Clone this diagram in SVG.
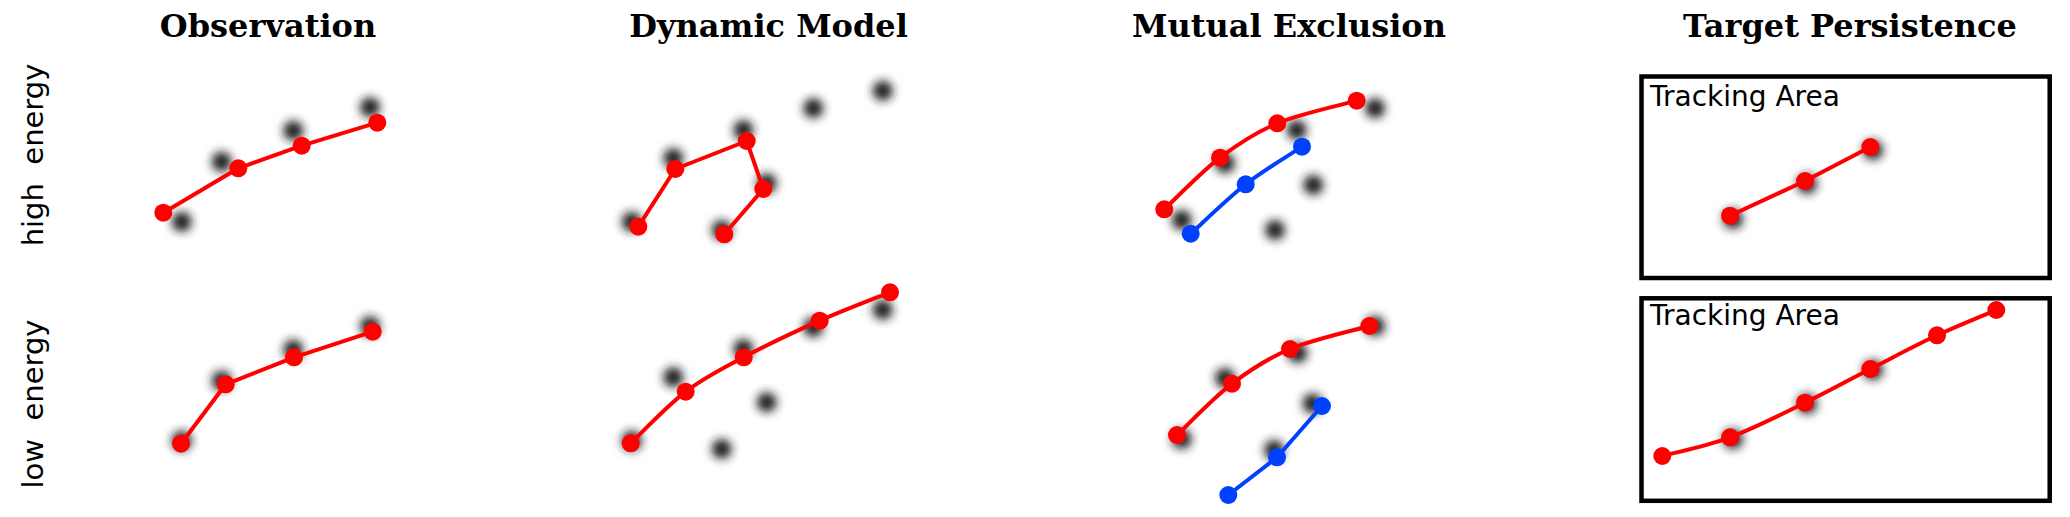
<svg xmlns="http://www.w3.org/2000/svg" width="2070" height="517" viewBox="0 0 2070 517">
<style>
.title{font-family:"DejaVu Serif","Liberation Serif",serif;font-weight:bold;font-size:32px;fill:#000;text-anchor:middle}
.row{font-family:"DejaVu Sans","Liberation Sans",sans-serif;font-size:29px;fill:#000;text-anchor:middle;white-space:pre}
.area{font-family:"DejaVu Sans","Liberation Sans",sans-serif;font-size:28px;fill:#000}
.blob{fill:#1a1a1a;filter:url(#blur)}
.red{fill:none;stroke:#ff0000;stroke-width:4;stroke-linejoin:round}
.blue{fill:none;stroke:#0040ff;stroke-width:4;stroke-linejoin:round}
.rd{fill:#ff0000}
.bd{fill:#0040ff}
.box{fill:none;stroke:#000;stroke-width:4.5}
</style>
<defs>
<filter id="blur" x="-150%" y="-150%" width="400%" height="400%"><feGaussianBlur stdDeviation="5"/></filter>
</defs>
<rect width="2070" height="517" fill="#fff"/>

<g id="titles">
<text class="title" x="268" y="37">Observation</text>
<text class="title" x="768.5" y="37">Dynamic Model</text>
<text class="title" x="1289" y="37">Mutual Exclusion</text>
<text class="title" x="1850" y="37">Target Persistence</text>
</g>
<g id="row-labels">
<text class="row" xml:space="preserve" transform="translate(43,155) rotate(-90)">high  energy</text>
<text class="row" xml:space="preserve" transform="translate(43,404) rotate(-90)">low  energy</text>
</g>

<!-- Observation -->
<g id="obs-high">
<circle class="blob" cx="181.7" cy="221.7" r="10"/>
<circle class="blob" cx="221.7" cy="161.7" r="10"/>
<circle class="blob" cx="293.3" cy="130.7" r="10"/>
<circle class="blob" cx="370" cy="107.3" r="10"/>
<polyline class="red" points="163.3,212.7 238.3,168.3 301.7,145.7 377.3,122.7"/>
<circle class="rd" cx="163.3" cy="212.7" r="9"/>
<circle class="rd" cx="238.3" cy="168.3" r="9"/>
<circle class="rd" cx="301.7" cy="145.7" r="9"/>
<circle class="rd" cx="377.3" cy="122.7" r="9"/>
</g>
<g id="obs-low">
<circle class="blob" cx="181.7" cy="440.7" r="10"/>
<circle class="blob" cx="221.7" cy="380.7" r="10"/>
<circle class="blob" cx="293.3" cy="349.7" r="10"/>
<circle class="blob" cx="370" cy="326.3" r="10"/>
<polyline class="red" points="181,443.7 225.7,384.3 294,357.3 372.7,331.7"/>
<circle class="rd" cx="181" cy="443.7" r="9"/>
<circle class="rd" cx="225.7" cy="384.3" r="9"/>
<circle class="rd" cx="294" cy="357.3" r="9"/>
<circle class="rd" cx="372.7" cy="331.7" r="9"/>
</g>

<!-- Dynamic Model -->
<g id="dyn-high">
<circle class="blob" cx="631.7" cy="221.7" r="10"/>
<circle class="blob" cx="673.3" cy="158.3" r="10"/>
<circle class="blob" cx="743.3" cy="130" r="10"/>
<circle class="blob" cx="766.7" cy="183.3" r="10"/>
<circle class="blob" cx="721.7" cy="230" r="10"/>
<circle class="blob" cx="813.3" cy="108.3" r="10"/>
<circle class="blob" cx="882.7" cy="90.7" r="10"/>
<polyline class="red" points="638.3,226.7 675.3,169 746.7,141 763.3,189 724.3,234.3"/>
<circle class="rd" cx="638.3" cy="226.7" r="9"/>
<circle class="rd" cx="675.3" cy="169" r="9"/>
<circle class="rd" cx="746.7" cy="141" r="9"/>
<circle class="rd" cx="763.3" cy="189" r="9"/>
<circle class="rd" cx="724.3" cy="234.3" r="9"/>
</g>
<g id="dyn-low">
<circle class="blob" cx="631.7" cy="440.7" r="10"/>
<circle class="blob" cx="673.3" cy="377.3" r="10"/>
<circle class="blob" cx="743.3" cy="349" r="10"/>
<circle class="blob" cx="766.7" cy="402.3" r="10"/>
<circle class="blob" cx="721.7" cy="449" r="10"/>
<circle class="blob" cx="813.3" cy="327.3" r="10"/>
<circle class="blob" cx="882.7" cy="309.7" r="10"/>
<path class="red" d="M630.7,443.3 C639.9,434.7 666.9,406 685.7,391.7 C704.5,377.4 721.4,369.1 743.7,357.3 C766,345.5 795.3,331.5 819.7,320.7 C844.1,309.9 878.3,297 890,292.3"/>
<circle class="rd" cx="630.7" cy="443.3" r="9"/>
<circle class="rd" cx="685.7" cy="391.7" r="9"/>
<circle class="rd" cx="743.7" cy="357.3" r="9"/>
<circle class="rd" cx="819.7" cy="320.7" r="9"/>
<circle class="rd" cx="890" cy="292.3" r="9"/>
</g>

<!-- Mutual Exclusion -->
<g id="mut-high">
<circle class="blob" cx="1181.7" cy="220" r="10"/>
<circle class="blob" cx="1225" cy="163.3" r="10"/>
<circle class="blob" cx="1296.7" cy="130" r="10"/>
<circle class="blob" cx="1375" cy="108.3" r="10"/>
<circle class="blob" cx="1313.3" cy="185" r="10"/>
<circle class="blob" cx="1275" cy="230" r="10"/>
<path class="red" d="M1164.3,209.3 C1173.6,200.7 1201.2,172 1220,157.7 C1238.8,143.4 1254.5,132.8 1277.3,123.3 C1300.1,113.8 1343.5,104.5 1356.7,100.7"/>
<path class="blue" d="M1190.7,233.7 C1199.9,225.5 1227.2,198.8 1245.7,184.3 C1264.3,169.8 1292.6,153 1302,146.7"/>
<circle class="rd" cx="1164.3" cy="209.3" r="9"/>
<circle class="rd" cx="1220" cy="157.7" r="9"/>
<circle class="rd" cx="1277.3" cy="123.3" r="9"/>
<circle class="rd" cx="1356.7" cy="100.7" r="9"/>
<circle class="bd" cx="1190.7" cy="233.7" r="9"/>
<circle class="bd" cx="1245.7" cy="184.3" r="9"/>
<circle class="bd" cx="1302" cy="146.7" r="9"/>
</g>
<g id="mut-low">
<circle class="blob" cx="1181.7" cy="439" r="10"/>
<circle class="blob" cx="1225" cy="378" r="10"/>
<circle class="blob" cx="1297.5" cy="353" r="10"/>
<circle class="blob" cx="1375" cy="326" r="10"/>
<circle class="blob" cx="1312.5" cy="403.5" r="10"/>
<circle class="blob" cx="1274" cy="450" r="10"/>
<path class="red" d="M1177,435 C1186.2,426.5 1213.2,398 1232,383.7 C1250.8,369.4 1267.1,358.6 1290,349 C1312.9,339.4 1356.1,329.8 1369.3,326"/>
<polyline class="blue" points="1228.3,495 1277,457.3 1322,406"/>
<circle class="rd" cx="1177" cy="435" r="9"/>
<circle class="rd" cx="1232" cy="383.7" r="9"/>
<circle class="rd" cx="1290" cy="349" r="9"/>
<circle class="rd" cx="1369.3" cy="326" r="9"/>
<circle class="bd" cx="1228.3" cy="495" r="9"/>
<circle class="bd" cx="1277" cy="457.3" r="9"/>
<circle class="bd" cx="1322" cy="406" r="9"/>
</g>

<!-- Target Persistence -->
<g id="tp-high">
<rect class="box" x="1641.5" y="76.5" width="408.2" height="201.5"/>
<text class="area" x="1650" y="106">Tracking Area</text>
<circle class="blob" cx="1733" cy="219" r="10"/>
<circle class="blob" cx="1807" cy="184" r="10"/>
<circle class="blob" cx="1873" cy="150" r="10"/>
<polyline class="red" points="1730,215.7 1805,181 1870.3,147"/>
<circle class="rd" cx="1730" cy="215.7" r="9"/>
<circle class="rd" cx="1805" cy="181" r="9"/>
<circle class="rd" cx="1870.3" cy="147" r="9"/>
</g>
<g id="tp-low">
<rect class="box" x="1641.5" y="298.3" width="408.2" height="202.5"/>
<text class="area" x="1650" y="325">Tracking Area</text>
<circle class="blob" cx="1733" cy="439" r="10"/>
<circle class="blob" cx="1807" cy="404" r="10"/>
<circle class="blob" cx="1873" cy="370" r="10"/>
<path class="red" d="M1662.3,456 C1673.6,452.9 1706.2,446.2 1730,437.3 C1753.8,428.4 1781.6,414.1 1805,402.7 C1828.4,391.3 1848.3,380.2 1870.3,369 C1892.3,357.8 1916,345.1 1937,335.3 C1958,325.5 1986.4,314.2 1996.3,310"/>
<circle class="rd" cx="1662.3" cy="456" r="9"/>
<circle class="rd" cx="1730" cy="437.3" r="9"/>
<circle class="rd" cx="1805" cy="402.7" r="9"/>
<circle class="rd" cx="1870.3" cy="369" r="9"/>
<circle class="rd" cx="1937" cy="335.3" r="9"/>
<circle class="rd" cx="1996.3" cy="310" r="9"/>
</g>
</svg>
